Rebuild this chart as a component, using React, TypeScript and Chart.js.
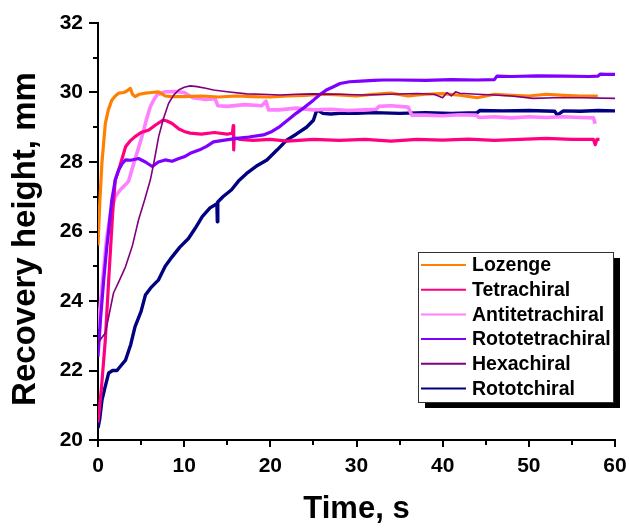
import React, { useEffect, useRef } from "react";
import { Chart, registerables } from "chart.js";

Chart.register(...registerables);

const FONT = 'Arial, "Liberation Sans", sans-serif';

const seriesNames = ["Lozenge", "Tetrachiral", "Antitetrachiral", "Rototetrachiral", "Hexachiral", "Rototchiral"];
const seriesColors = ["#FF8000", "#FF0080", "#FF80FF", "#8000FF", "#800080", "#000080"];

const xTicks = [0, 10, 20, 30, 40, 50, 60];
const yTicks = [20, 22, 24, 26, 28, 30, 32];

const lozengeT = [0, 0.2, 0.45, 0.85, 1.2, 1.6, 2.0, 2.4, 3.0, 3.4, 3.75, 4.0, 4.3, 4.8, 5.5, 6.2, 7.0, 7.5, 7.8, 8.5, 10, 12, 14, 16, 18, 20, 22, 24, 26, 28, 30, 32, 34, 36, 38, 40, 42, 44, 46, 48, 50, 52, 54, 56, 58];
const lozengeV = [25.6, 26.8, 27.96, 29.11, 29.5, 29.78, 29.9, 29.98, 30.0, 30.05, 30.12, 29.95, 29.88, 29.95, 29.98, 30.0, 30.02, 29.95, 29.9, 29.88, 29.88, 29.9, 29.87, 29.9, 29.88, 29.87, 29.9, 29.92, 29.95, 29.93, 29.9, 29.95, 29.98, 29.9, 29.95, 29.97, 29.92, 29.85, 29.95, 29.92, 29.9, 29.95, 29.92, 29.9, 29.9];

const tetraT = [0, 0.4, 0.85, 1.24, 1.7, 2.0, 2.4, 2.8, 3.2, 3.7, 4.3, 5.0, 5.9, 6.6, 7.2, 7.6, 8.0, 8.6, 9.4, 10.0, 10.7, 12, 13.5, 15, 15.6, 15.7, 15.75, 15.8, 16.5, 18, 20, 22, 25, 28, 31, 34, 37, 40, 43, 46, 49, 52, 55, 57.5, 57.7, 57.9, 58.2];
const tetraV = [20.5, 21.5, 22.88, 24.6, 26.52, 27.48, 27.77, 28.1, 28.44, 28.6, 28.73, 28.85, 28.92, 29.05, 29.15, 29.21, 29.18, 29.11, 28.95, 28.88, 28.83, 28.8, 28.85, 28.8, 28.83, 29.05, 28.35, 28.7, 28.65, 28.62, 28.65, 28.6, 28.65, 28.62, 28.65, 28.6, 28.65, 28.63, 28.66, 28.62, 28.65, 28.68, 28.65, 28.65, 28.5, 28.65, 28.65];

const antiT = [0, 0.5, 1.0, 1.5, 2.0, 2.6, 3.2, 3.55, 4.2, 5.1, 5.6, 6.07, 6.5, 6.84, 7.8, 9, 10, 11, 12.5, 13.6, 13.9, 15, 17, 19, 19.5, 19.8, 21, 23, 25, 27, 29, 31, 32.3, 32.6, 34, 36, 36.4, 38, 40, 42, 43.9, 44.2, 46, 48, 50, 52, 54, 56, 57.5, 57.7];
const antiV = [23.2, 24.5, 25.8, 26.6, 27.0, 27.2, 27.35, 27.45, 28.0, 28.73, 29.2, 29.59, 29.8, 29.93, 30.02, 30.03, 30.0, 29.85, 29.8, 29.82, 29.62, 29.6, 29.65, 29.62, 29.75, 29.5, 29.5, 29.55, 29.5, 29.52, 29.48, 29.5, 29.52, 29.6, 29.62, 29.58, 29.35, 29.35, 29.33, 29.36, 29.35, 29.28, 29.3, 29.27, 29.3, 29.28, 29.3, 29.28, 29.27, 29.1];

const rotoTetraT = [0, 0.3, 0.66, 1.0, 1.24, 1.6, 2.0, 2.4, 2.8, 3.2, 3.8, 4.7, 5.5, 6.3, 7.0, 7.8, 8.6, 9.4, 10.0, 10.7, 11.8, 12.6, 13.4, 14.5, 16.1, 17.5, 19.2, 20.2, 21.1, 22.0, 23.0, 24.0, 25.0, 25.8, 26.5, 27.2, 28.1, 29.2, 30.5, 32, 33.1, 35, 38, 41, 44, 46, 46.3, 48, 51, 54, 57, 58, 58.3, 59, 60];
const rotoTetraV = [22.4, 23.5, 24.6, 25.5, 26.04, 26.9, 27.48, 27.77, 27.95, 28.06, 28.05, 28.1, 28.0, 27.87, 28.0, 28.06, 28.02, 28.1, 28.15, 28.25, 28.35, 28.45, 28.58, 28.62, 28.68, 28.72, 28.78, 28.88, 29.02, 29.2, 29.4, 29.58, 29.78, 29.95, 30.07, 30.15, 30.26, 30.31, 30.33, 30.35, 30.36, 30.36, 30.35, 30.37, 30.36, 30.37, 30.47, 30.46, 30.48, 30.47, 30.46, 30.47, 30.53, 30.52, 30.52];

const hexaT = [0, 0.85, 1.8, 2.5, 3.2, 4.0, 4.7, 5.4, 6.07, 6.5, 7.04, 7.6, 8.2, 8.8, 9.36, 10.0, 10.7, 11.5, 12.5, 13.4, 15, 17.25, 19, 21.1, 23, 25, 28, 31, 34, 37, 39, 40, 40.5, 41, 41.5, 42, 44, 46, 48, 50.5, 53, 56, 60];
const hexaV = [22.8, 23.08, 24.23, 24.6, 24.99, 25.6, 26.33, 26.9, 27.48, 28.0, 28.73, 29.25, 29.69, 29.93, 30.07, 30.15, 30.19, 30.17, 30.12, 30.07, 30.02, 29.96, 29.95, 29.93, 29.95, 29.96, 29.95, 29.93, 29.95, 29.97, 29.95, 29.85, 30.0, 29.9, 30.02, 29.98, 29.95, 29.93, 29.9, 29.83, 29.85, 29.85, 29.83];

const rotoT = [0, 0.2, 0.46, 0.8, 1.24, 1.7, 2.2, 2.7, 3.2, 3.8, 4.3, 5.0, 5.5, 6.2, 7.0, 7.8, 8.6, 9.5, 10.5, 11.3, 12.1, 13.0, 13.8, 13.85, 13.9, 14.5, 15.5, 16.3, 17.25, 18.5, 19.6, 20.8, 21.9, 23.0, 24.2, 25.0, 25.4, 26.1, 27, 28, 30, 32, 35, 38, 41, 44, 44.3, 47, 50, 53, 53.3, 54, 56, 58, 60];
const rotoV = [20.35, 20.6, 21.15, 21.5, 21.93, 22.0, 22.0, 22.15, 22.3, 22.75, 23.26, 23.7, 24.17, 24.4, 24.6, 25.0, 25.27, 25.55, 25.8, 26.1, 26.43, 26.68, 26.8, 26.28, 26.85, 27.0, 27.2, 27.45, 27.67, 27.9, 28.06, 28.35, 28.63, 28.8, 29.0, 29.2, 29.5, 29.4, 29.38, 29.4, 29.4, 29.42, 29.4, 29.42, 29.4, 29.42, 29.48, 29.47, 29.48, 29.46, 29.35, 29.47, 29.46, 29.48, 29.47];

const seriesT = [lozengeT, tetraT, antiT, rotoTetraT, hexaT, rotoT];
const seriesV = [lozengeV, tetraV, antiV, rotoTetraV, hexaV, rotoV];
const seriesWidth = [3.2, 3.2, 3.6, 3.2, 1.6, 3.4];
const seriesOrder = [2, 3, 4, 1, 0, 5];

const pad = { left: 0, top: 23, right: 14, bottom: 0 };
const Y_AXIS_W = 98;
const X_AXIS_H = 88;

const decoPlugin = {
  id: "deco",
  afterDraw(chart: any) {
    const ctx = chart.ctx;
    const xs = chart.scales.x;
    const ys = chart.scales.y;
    const area = chart.chartArea;
    ctx.save();
    // minor ticks
    ctx.strokeStyle = "#000";
    ctx.lineWidth = 2;
    ctx.beginPath();
    for (let v = 21; v < 32; v += 2) {
      const py = Math.round(ys.getPixelForValue(v));
      ctx.moveTo(area.left, py);
      ctx.lineTo(area.left - 5, py);
    }
    for (let v = 5; v < 60; v += 10) {
      const px = Math.round(xs.getPixelForValue(v));
      ctx.moveTo(px, area.bottom);
      ctx.lineTo(px, area.bottom + 5);
    }
    ctx.stroke();

    // axis titles
    ctx.fillStyle = "#000";
    ctx.textAlign = "center";
    ctx.textBaseline = "middle";
    ctx.font = `bold 31px ${FONT}`;
    ctx.fillText("Time, s", (area.left + area.right) / 2, 509);
    ctx.save();
    ctx.translate(26, 239);
    ctx.rotate(-Math.PI / 2);
    ctx.font = `bold 33px ${FONT}`;
    ctx.fillText("Recovery height, mm", 0, 0);
    ctx.restore();

    // legend
    const bx = 418, by = 252, bw = 195, bh = 150;
    ctx.fillStyle = "#000";
    ctx.fillRect(bx + 7, by + 6, bw, bh);
    ctx.fillStyle = "#fff";
    ctx.fillRect(bx, by, bw, bh);
    ctx.strokeStyle = "#333";
    ctx.lineWidth = 1;
    ctx.strokeRect(bx + 0.5, by + 0.5, bw, bh);
    ctx.font = `bold 19.5px ${FONT}`;
    ctx.textAlign = "left";
    ctx.textBaseline = "middle";
    chart.data.datasets.forEach((ds: any, i: number) => {
      const ry = 265 + i * 24.7;
      ctx.strokeStyle = ds.borderColor;
      ctx.lineWidth = 2;
      ctx.beginPath();
      ctx.moveTo(421, ry);
      ctx.lineTo(466, ry);
      ctx.stroke();
      ctx.fillStyle = "#000";
      ctx.fillText(ds.label, 472, ry + 1);
    });
    ctx.restore();
  },
};

export default function App() {
  const ref = useRef<HTMLCanvasElement>(null);
  useEffect(() => {
    const datasets = seriesNames.map((name, i) => ({
      label: name,
      data: seriesT[i].map((t, j) => ({ x: t, y: seriesV[i][j] })),
      borderColor: seriesColors[i],
      backgroundColor: seriesColors[i],
      borderWidth: seriesWidth[i],
      pointRadius: 0,
      tension: 0,
      fill: false,
      showLine: true,
      order: seriesOrder[i],
      borderJoinStyle: "round" as const,
    }));
    const zeroPad = (s: any) => {
      s.paddingTop = 0;
      s.paddingBottom = 0;
      s.paddingLeft = 0;
      s.paddingRight = 0;
    };
    const chart = new Chart(ref.current as HTMLCanvasElement, {
      type: "line",
      data: { datasets },
      plugins: [decoPlugin],
      options: {
        animation: false,
        responsive: false,
        devicePixelRatio: 1,
        layout: { padding: pad },
        plugins: { legend: { display: false }, tooltip: { enabled: false } },
        scales: {
          x: {
            type: "linear",
            min: 0,
            max: 60,
            afterBuildTicks: (s: any) => {
              s.ticks = xTicks.map((v) => ({ value: v }));
            },
            afterFit: (s: any) => {
              s.height = X_AXIS_H;
              zeroPad(s);
            },
            border: { display: true, color: "#000", width: 2 },
            grid: { drawOnChartArea: false, drawTicks: true, tickLength: 7, color: "#000", lineWidth: 2 },
            ticks: { color: "#000", font: { family: FONT, size: 21, weight: "bold" }, padding: 7, maxRotation: 0 },
          },
          y: {
            type: "linear",
            min: 20,
            max: 32,
            afterBuildTicks: (s: any) => {
              s.ticks = yTicks.map((v) => ({ value: v }));
            },
            afterFit: (s: any) => {
              s.width = Y_AXIS_W;
              zeroPad(s);
            },
            border: { display: true, color: "#000", width: 2 },
            grid: { drawOnChartArea: false, drawTicks: true, tickLength: 9, color: "#000", lineWidth: 2 },
            ticks: { color: "#000", font: { family: FONT, size: 21, weight: "bold" }, padding: 6 },
          },
        },
      },
    } as any);
    return () => chart.destroy();
  }, []);
  return (
    <div style={{ position: "absolute", left: 0, top: 0, width: 629, height: 528, background: "#fff" }}>
      <canvas ref={ref} width={629} height={528} />
    </div>
  );
}
